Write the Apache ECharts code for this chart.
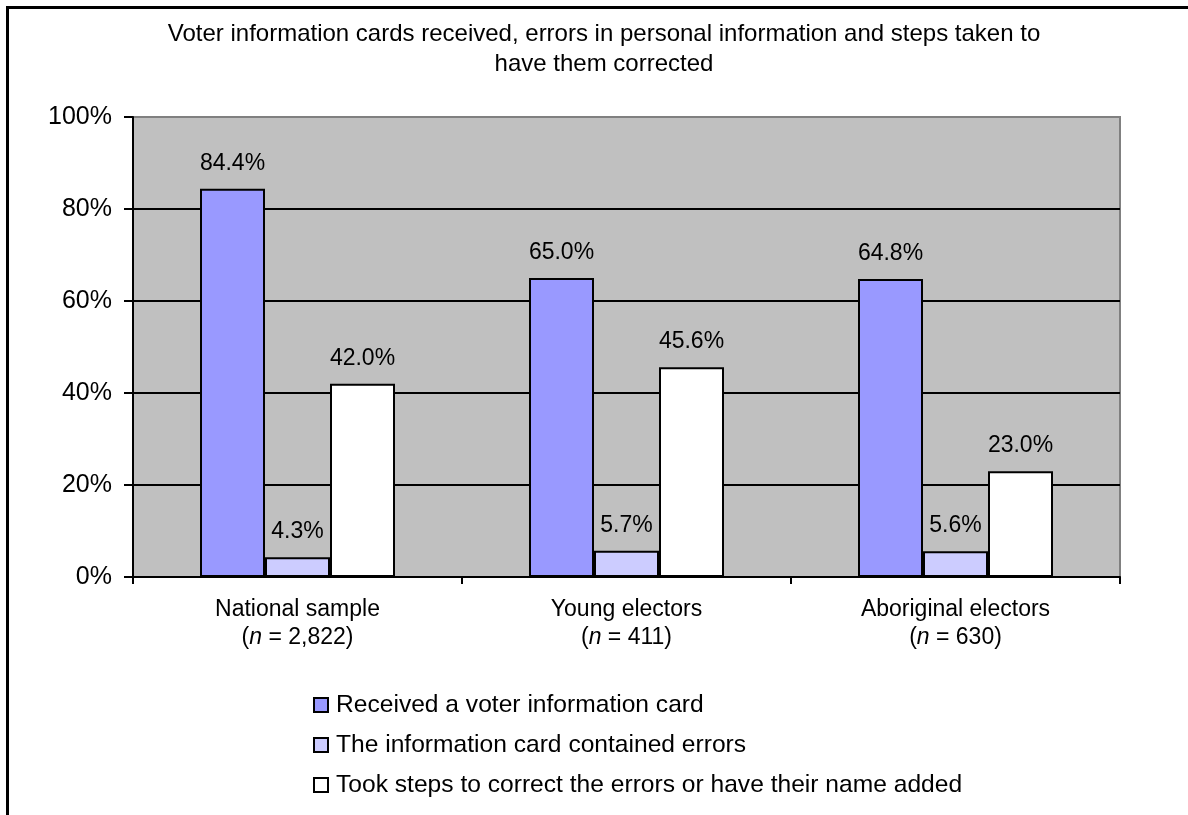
<!DOCTYPE html>
<html>
<head>
<meta charset="utf-8">
<script src="https://cdn.jsdelivr.net/npm/echarts@6/dist/echarts.min.js"></script>
<style>
  html, body { margin: 0; padding: 0; background: #fff; }
  #chart { width: 1188px; height: 815px; }
</style>
</head>
<body>
<div id="chart"></div>
<script>
// data
const categories = ['National sample', 'Young electors', 'Aboriginal electors'];
const sampleSizes = ['2,822', '411', '630'];
const seriesNames = [
  'Received a voter information card',
  'The information card contained errors',
  'Took steps to correct the errors or have their name added'
];
const receivedCard = [84.4, 65.0, 64.8];
const cardErrors = [4.3, 5.7, 5.6];
const tookSteps = [42.0, 45.6, 23.0];
const yTicks = [0, 20, 40, 60, 80, 100];

const FONT = '"Liberation Sans", Arial, sans-serif';
const colors = ['#9999ff', '#ccccff', '#ffffff'];
const titleText = 'Voter information cards received, errors in personal information and steps taken to\nhave them corrected';

const chart = echarts.init(document.getElementById('chart'));

const makeBar = (name, data, i) => ({
  name: name,
  type: 'bar',
  data: data,
  barWidth: 65,
  barGap: '0%',
  itemStyle: { color: colors[i], borderColor: '#000', borderWidth: 2 },
  label: {
    show: true,
    position: 'top',
    distance: 14,
    color: '#000',
    fontFamily: FONT,
    fontSize: 23,
    formatter: (p) => p.value.toFixed(1) + '%'
  }
});

const option = {
  animation: false,
  backgroundColor: '#fff',
  grid: {
    left: 133, right: 68, top: 117, bottom: 238,
    show: true, backgroundColor: '#c0c0c0', borderColor: '#808080', borderWidth: 2
  },
  legend: {
    orient: 'vertical',
    left: 313,
    top: 685,
    padding: 0,
    itemGap: 0,
    itemWidth: 14,
    itemHeight: 14,
    icon: 'rect',
    textStyle: { fontFamily: FONT, fontSize: 24.6, color: '#000', lineHeight: 40, padding: [0, 0, 0, 3] },
    data: seriesNames
  },
  xAxis: {
    type: 'category',
    data: categories,
    axisLine: { lineStyle: { color: '#000', width: 2 } },
    axisTick: { show: true, length: 7, lineStyle: { color: '#000', width: 2 } },
    axisLabel: {
      margin: 19,
      color: '#000',
      fontFamily: FONT,
      fontSize: 23,
      lineHeight: 28,
      formatter: (v, i) => v + '\n({it|n} = ' + sampleSizes[i] + ')',
      rich: {
        it: { fontStyle: 'italic', fontFamily: FONT, fontSize: 23, color: '#000', lineHeight: 28 }
      }
    }
  },
  yAxis: {
    type: 'value',
    min: yTicks[0],
    max: yTicks[yTicks.length - 1],
    interval: yTicks[1] - yTicks[0],
    axisLine: { show: true, lineStyle: { color: '#000', width: 2 } },
    axisTick: { show: true, length: 9, lineStyle: { color: '#000', width: 2 } },
    axisLabel: {
      margin: 21,
      color: '#000',
      fontFamily: FONT,
      fontSize: 25,
      formatter: '{value}%'
    },
    splitLine: { show: true, showMinLine: false, showMaxLine: false, lineStyle: { color: '#000', width: 2 } }
  },
  series: [
    makeBar(seriesNames[0], receivedCard, 0),
    makeBar(seriesNames[1], cardErrors, 1),
    makeBar(seriesNames[2], tookSteps, 2)
  ],
  graphic: [
    {
      type: 'text',
      x: 604,
      y: 19,
      silent: true,
      style: {
        text: titleText,
        align: 'center',
        textAlign: 'center',
        fontFamily: FONT,
        fontSize: 24,
        lineHeight: 30,
        fill: '#000'
      }
    },
    {
      type: 'rect',
      shape: { x: 7.5, y: 7.5, width: 1300, height: 1000 },
      style: { fill: 'none', stroke: '#000', lineWidth: 3 },
      silent: true
    }
  ]
};

chart.setOption(option);
</script>
</body>
</html>
